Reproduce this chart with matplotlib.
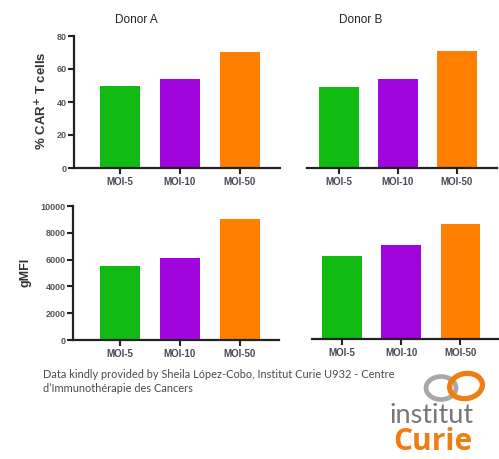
import matplotlib.pyplot as plt
from matplotlib.patches import Ellipse

# MOI conditions and measured values per donor
conditions = ['MOI-5', 'MOI-10', 'MOI-50']
bar_colors = ['#11bb11', '#a005dd', '#ff7f00']
car_donor_a = [50, 54, 70]
car_donor_b = [49, 54, 71]
gmfi_donor_a = [5500, 6100, 9000]
gmfi_donor_b = [6200, 7000, 8600]
car_ticks = [0, 20, 40, 60, 80]
gmfi_ticks = [0, 2000, 4000, 6000, 8000, 10000]

plt.rcParams['font.family'] = ['Liberation Sans', 'DejaVu Sans']

W, H = 499, 459
fig = plt.figure(figsize=(W / 100, H / 100), dpi=100)


def panel(x0, x1, y0, y1, vals, ymax, ticks, xlim, show_y):
    ax = fig.add_axes([x0 / W, 1 - y0 / H, (x1 - x0) / W, (y0 - y1) / H])
    pos = list(range(len(vals)))
    ax.bar(pos, vals, width=0.67, color=bar_colors, edgecolor='none')
    ax.set_xlim(*xlim)
    ax.set_ylim(0, ymax)
    ax.set_xticks(pos)
    ax.set_xticklabels(conditions, fontsize=7, fontweight='bold', color='#4a4a58')
    ax.tick_params(axis='x', direction='out', length=4, width=1.5, pad=2.5, color='#222222')
    for s in ['top', 'right']:
        ax.spines[s].set_visible(False)
    ax.spines['bottom'].set_linewidth(1.6)
    ax.spines['bottom'].set_color('#222222')
    if show_y:
        ax.set_yticks(ticks)
        ax.set_yticklabels([str(t) for t in ticks], fontsize=6.5, fontweight='bold', color='#555555')
        ax.tick_params(axis='y', direction='out', length=4, width=1.5, pad=1.5, color='#222222')
        ax.spines['left'].set_linewidth(1.6)
        ax.spines['left'].set_color('#222222')
    else:
        ax.set_yticks([])
        ax.spines['left'].set_visible(False)
    ax.patch.set_alpha(0)
    return ax


panel(74, 280, 168, 36, car_donor_a, 80, car_ticks, (-0.77, 2.67), True)
panel(307, 497, 168, 36, car_donor_b, 80, car_ticks, (-0.54, 2.68), False)
panel(73, 279, 340, 206, gmfi_donor_a, 10000, gmfi_ticks, (-0.78, 2.65), True)
panel(312, 499, 339, 205, gmfi_donor_b, 10000, gmfi_ticks, (-0.5, 2.65), False)

# titles and axis labels
fig.text(136 / W, 1 - 20 / H, 'Donor A', fontsize=8.5, ha='center', va='center', color='#222222')
fig.text(361 / W, 1 - 20 / H, 'Donor B', fontsize=8.5, ha='center', va='center', color='#222222')
fig.text(42 / W, 1 - 101 / H, r'% CAR$^{\mathbf{+}}$ T cells', fontsize=9.5, fontweight='bold',
         rotation=90, ha='center', va='center', color='#333333')
fig.text(25 / W, 1 - 272 / H, 'gMFI', fontsize=9, fontweight='bold',
         rotation=90, ha='center', va='center', color='#333333')

# credit line
credit_font = ['Lato', 'DejaVu Sans']
fig.text(43 / W, 1 - 375 / H,
         'Data kindly provided by Sheila López-Cobo, Institut Curie U932 - Centre',
         fontsize=7.9, family=credit_font, color='#4a4a4a', va='center')
fig.text(43 / W, 1 - 389 / H, 'd\u2019Immunothérapie des Cancers',
         fontsize=7.9, family=credit_font, color='#4a4a4a', va='center')

# institut Curie logo
lax = fig.add_axes([0, 0, 1, 1])
lax.set_xlim(0, W)
lax.set_ylim(H, 0)
lax.axis('off')
lax.add_patch(Ellipse((441, 388), 30, 23, fill=False, lw=3.4, color='#a8a8a8'))
lax.add_patch(Ellipse((466, 386), 33, 25, angle=-10, fill=False, lw=3.8, color='#f07d10'))
fig.text(432 / W, 1 - 423 / H, 'institut', fontsize=19.5, family=['Lato', 'DejaVu Sans'],
         color='#777777', ha='center', va='baseline')
fig.text(433 / W, 1 - 450 / H, 'Curie', fontsize=21.5, fontweight='bold', family=['Open Sans', 'DejaVu Sans'],
         color='#f07d10', ha='center', va='baseline')

fig.savefig('out.png', dpi=100)
